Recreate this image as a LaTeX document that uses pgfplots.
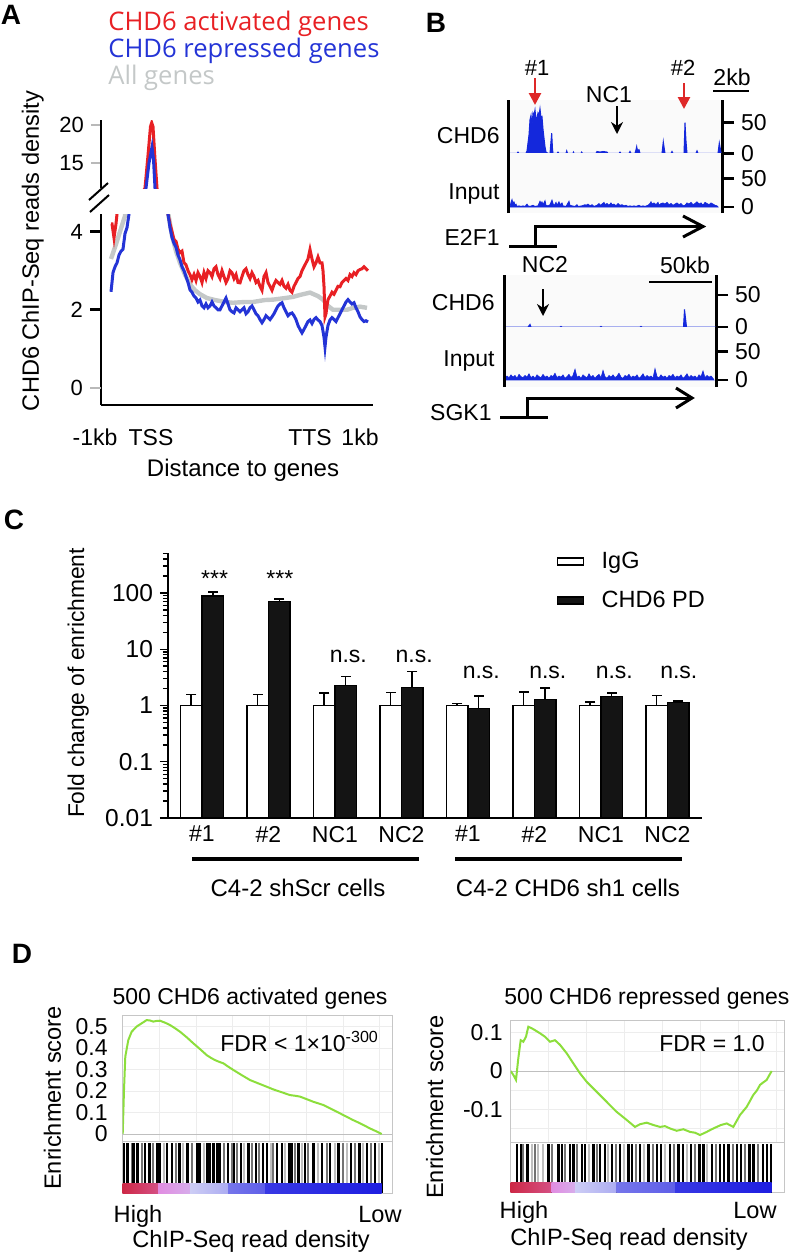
\documentclass[border=0pt]{standalone}
\usepackage{pgfplots}
\pgfplotsset{compat=1.18}
\usepackage{pgfplotstable}
\usepackage{fontspec}
\setmainfont{Liberation Sans}
\newfontfamily\osans{Open Sans}
\usetikzlibrary{arrows.meta}
\definecolor{cred}{RGB}{232,32,36}
\definecolor{cblue}{RGB}{36,52,214}
\definecolor{cgray}{RGB}{196,200,200}
\definecolor{trkblue}{RGB}{20,40,220}
\definecolor{arrred}{RGB}{222,40,40}
\definecolor{esgreen}{RGB}{140,222,60}
\definecolor{hred}{RGB}{205,40,70}
\definecolor{hpink}{RGB}{225,140,225}
\definecolor{hlav}{RGB}{205,205,245}
\definecolor{hmblue}{RGB}{95,95,232}
\definecolor{hblue}{RGB}{30,30,225}
\newcommand\fs[1]{\fontsize{#1}{#1}\selectfont}

% ---------- Panel A data ----------
\pgfplotstableread{
x y
111 4.2
112 4.2
114 3.84
116 4.2
117 4.45
130 7.8
140 10.5
145 11.7
148 16
150.5 19.8
151.7 20.3
153 19.8
155 15.5
157 11.7
162 8.5
168 4.45
170 4.2
172 4.0
174 3.8
176 3.75
178 3.55
180 3.46
182 3.5
184 3.2
186 3.15
188 3.0
190 2.9
192 2.77
194 2.9
196 2.75
198 2.95
200 2.85
202 2.7
204 2.95
206 2.8
208 3.0
210 2.95
212 2.85
214 3.05
216 3.1
218 2.9
220 2.8
222 3.0
224 2.85
226 2.7
228 2.8
230 3.0
232 2.95
234 2.8
236 2.9
238 2.7
240 2.69
242 2.85
244 3.0
246 3.05
248 2.9
250 2.8
252 2.95
254 2.85
256 2.7
258 2.75
260 2.6
262 2.5
264 2.85
266 2.95
268 2.7
270 2.6
272 2.5
274 2.65
276 2.75
278 2.7
280 2.65
282 2.75
284 2.6
286 2.55
288 2.65
290 2.5
292 2.45
294 2.6
296 2.7
298 2.8
300 2.85
302 3.0
304 3.1
306 3.2
308 3.3
310 3.54
312 3.3
314 3.1
316 3.2
318 3.35
320 3.2
322 3.2
323 3.0
324 2.6
325 1.82
326 1.9
327 2.1
328 2.26
330 2.35
332 2.45
334 2.4
336 2.5
338 2.6
340 2.59
342 2.7
344 2.75
346 2.8
348 2.75
350 2.9
352 2.85
354 2.95
356 2.9
358 3.0
360 3.03
362 3.05
364 3.1
366 3.05
368 3.0
}\redtab

\pgfplotstableread{
x y
111 2.46
112 2.7
113 2.95
115 3.1
117 3.2
119 3.4
121 3.5
123 3.55
125 3.95
127 4.1
129 4.45
140 9
146 11.7
149 15
152 17.1
153.5 15.5
155 11.7
161 8
168 4.45
170 4.1
172 3.85
174 3.7
176 3.6
178 3.4
180 3.28
182 3.1
184 3.0
186 2.85
188 2.7
190 2.51
192 2.45
194 2.35
196 2.3
198 2.2
200 2.25
202 2.1
204 2.05
206 2.15
208 2.05
210 2.1
212 2.2
214 2.1
216 2.05
218 2.0
220 2.0
222 2.1
224 2.2
226 2.3
228 2.15
230 2.0
232 1.95
234 1.92
236 2.05
238 2.0
240 1.95
242 2.0
244 2.05
246 1.9
248 1.95
250 2.05
252 2.1
254 2.0
256 1.9
258 1.85
260 1.75
262 1.67
264 1.75
266 1.85
268 1.8
270 1.75
272 1.82
274 1.9
276 2.0
278 2.1
280 2.15
282 2.18
284 2.05
286 1.95
288 1.85
290 1.9
292 1.92
294 1.85
296 1.75
298 1.6
300 1.5
302 1.41
304 1.5
306 1.6
308 1.7
310 1.74
312 1.65
314 1.75
316 1.8
318 1.74
320 1.7
322 1.6
324 1.3
325 1.05
326 1.3
328 1.6
330 1.74
332 1.8
334 1.75
336 1.7
338 1.8
340 1.9
342 2.0
344 2.1
346 2.2
348 2.26
350 2.2
352 2.15
354 2.18
356 2.05
358 1.95
360 1.82
362 1.75
364 1.7
366 1.72
368 1.69
}\bluetab

\pgfplotstableread{
x y
111 3.3
115 3.6
120 4.0
125 4.4
130 6
140 9
150 11
157 10
163 7
168 4.5
172 3.9
176 3.5
180 3.2
185 2.9
190 2.65
195 2.5
200 2.4
207 2.3
215 2.25
225 2.2
233 2.18
245 2.2
253 2.2
265 2.25
273 2.26
285 2.3
293 2.33
300 2.38
310 2.44
318 2.35
323 2.26
328 2.1
333 2.0
340 2.0
347 2.0
353 2.05
360 2.08
367 2.05
}\graytab

% ---------- Panel B data ----------
\pgfplotstableread{
x y
508 0
517 0
518 2
519 0
526 0
527 4
529 30
530 55
531 62
532 45
533 66
534 62
535 71
536 55
537 58
538 66
539 62
540 73
541 58
542 60
543 40
544 25
545 11
546 2
548 0
550 0
551 20
551.7 33
552.5 8
553 0
557 0
558 2
559 0
566 0
566.7 4
567.5 0
573 0
573.5 2
574 0
581 0
581.7 2
582.5 0
596 0
597 3
600 2
603 3
607 2
608 0
619 0
620 2
621 0
629 0
630 3
631 0
635 0
636 6
636.7 11
637.5 4
639 6
640 0
662 0
663.3 19
664.5 5
665 0
671 0
672 3
673 0
684 0
685 50
686 20
687 0
696 0
697 4
698 0
718 0
719.3 17
720.5 6
721 0
722 0
}\chdA

\pgfplotstableread{
x y
510 0
511 8
512 13
513 6
514 9
515 3
516 5
517 1
519 2
521 1
523 2
525 1
527 5
528 2
530 1
533 3
535 1
538 2
540 10
541 6
542 9
543 4
545 11
546 3
548 2
550 4
552 12
553 6
554 2
556 8
557 3
559 9
560 4
562 7
563 2
566 1
569 10
570 3
572 2
575 1
577 4
578 1
582 2
585 4
586 3
588 5
590 2
592 4
594 1
597 3
599 6
600 3
602 5
604 8
605 4
607 6
609 3
611 7
612 4
614 5
616 2
618 6
620 3
622 4
624 2
626 3
628 1
630 2
632 1
634 2
636 1
639 3
641 1
643 2
645 1
648 3
650 6
651 9
652 5
654 7
656 4
658 8
659 3
661 6
663 7
665 5
667 8
669 4
671 6
673 3
675 5
677 7
679 4
681 6
683 2
685 3
687 7
689 5
691 8
693 4
695 6
697 9
699 5
701 7
703 3
705 8
707 6
709 4
711 7
713 5
715 3
717 2
718 0
}\inpA

\pgfplotstableread{
x y
504 0
528 0
529 2
530 4
531 0
560 0
561 1
562 0
600 0
601 1
602 0
640 0
641 1
642 0
683.5 0
684.5 27.6
685.5 14
686.5 0
716 0
}\chdB

\pgfplotstableread{
x y
504 0
505 3
507 7
509 4
511 9
513 5
515 8
517 3
519 10
521 6
523 4
525 8
527 5
529 11
531 4
533 7
535 3
537 9
539 6
541 4
543 10
545 5
547 7
549 3
551 8
553 6
555 12
557 4
559 7
561 5
563 9
565 3
567 6
569 10
571 4
573 8
575 19
577 5
579 7
581 3
583 9
585 6
587 4
589 11
591 5
593 8
595 3
597 7
599 10
601 4
603 17
605 6
607 3
609 8
611 5
613 9
615 4
617 7
619 12
621 5
623 3
625 8
627 6
629 10
631 4
633 7
635 5
637 9
639 3
641 6
643 11
645 4
647 8
649 5
651 7
653 3
655 20
657 6
659 4
661 9
663 5
665 7
667 3
669 8
671 6
673 10
675 4
677 7
679 5
681 9
683 3
685 6
687 11
689 4
691 8
693 5
695 7
697 3
699 9
701 6
703 16
705 4
707 8
709 5
711 7
713 3
714 0
}\inpB

% ---------- Panel D data ----------
\pgfplotstableread{
x y
122.7 0
124 0.205
125.3 0.36
128.3 0.437
131.7 0.476
136.7 0.5
141.7 0.515
146.7 0.53
150 0.528
153.3 0.523
156.7 0.526
160 0.527
165 0.518
170 0.507
175 0.492
180 0.476
186.7 0.45
193.3 0.422
200 0.395
206.7 0.367
211 0.354
215 0.344
219 0.336
223.3 0.329
228 0.314
233.3 0.298
241.7 0.274
250 0.251
258 0.236
266.7 0.22
273 0.208
280 0.197
285 0.189
290 0.181
295 0.178
300 0.174
306.7 0.162
313.3 0.15
318 0.143
323.3 0.135
328 0.124
333.3 0.112
340 0.096
346.7 0.08
353 0.065
360 0.05
365 0.038
370 0.026
376 0.013
381.7 0
}\esA

\pgfplotstableread{
x y
510.7 0
513.3 -0.01
516 -0.023
518.3 0.033
520.7 0.08
523.3 0.076
526 0.089
528.3 0.115
531.7 0.111
535 0.106
540 0.098
545 0.089
550 0.076
555 0.08
560 0.068
566.7 0.046
573.3 0.02
580 -0.006
586.7 -0.028
596.7 -0.054
606.7 -0.08
616.7 -0.106
626.7 -0.127
635 -0.145
640 -0.138
646.7 -0.134
653.3 -0.14
660 -0.145
665 -0.143
670 -0.149
676.7 -0.155
683.3 -0.151
690 -0.158
695 -0.16
700 -0.166
706.7 -0.158
711 -0.152
716.7 -0.145
721 -0.14
726.7 -0.136
733.3 -0.145
740 -0.114
746.7 -0.093
753.3 -0.062
757 -0.05
760 -0.036
763 -0.03
766.7 -0.023
769 -0.012
771.7 0
}\esB

\pgfplotsset{
  trk/.style={scale only axis, axis x line=none, axis y line*=right,
    axis line style={-,line width=1.5pt}, ytick={0,50}, yticklabels={0,50},
    tick align=outside, major tick length=6pt, tick style={black,line width=1.3pt},
    yticklabel style={font=\fs{11.5}}, clip=false,
    axis background/.style={fill=black!2}},
  esax/.style={scale only axis, axis line style={gray!45,line width=0.5pt},
    major tick length=0pt, minor tick length=0pt, grid=both,
    grid style={gray!14,line width=0.4pt}, minor grid style={gray!14,line width=0.4pt},
    xticklabels={}, yticklabel style={font=\fs{11.5}}},
  hitax/.style={scale only axis, axis line style={gray!45,line width=0.5pt},
    xtick=\empty, ytick=\empty, ymin=0, ymax=52}
}

\begin{document}
\begin{tikzpicture}[x=0.5pt,y=-0.5pt]
\path[use as bounding box] (0,0) rectangle (799,1254);

% ================= Panel A =================
\node[font=\fs{14}\bfseries] at (11,15) {A};
\node[anchor=base west, inner sep=0, font=\osans\fs{12.8}, text=cred] at (108,30) {CHD6 activated genes};
\node[anchor=base west, inner sep=0, font=\osans\fs{12.8}, text=cblue] at (108,57) {CHD6 repressed genes};
\node[anchor=base west, inner sep=0, font=\osans\fs{12.8}, text=cgray] at (108,84) {All genes};

\begin{axis}[at={(50.5pt,-202.5pt)}, anchor=south west, scale only axis, width=136pt, height=95.5pt,
  xmin=101, xmax=373, ymin=-0.435, ymax=4.45,
  axis x line*=bottom, axis y line*=left, axis line style={-,line width=0.8pt},
  xtick=\empty, ytick={2,4}, yticklabels={2,4},
  extra y ticks={0}, extra y tick labels={0},
  extra y tick style={tick style={draw=gray!55,line width=0.6pt}},
  tick align=outside, major tick length=5.5pt, tick style={black,line width=1.4pt},
  yticklabel style={font=\fs{11}}]
\addplot[cgray, line width=2.2pt] table {\graytab};
\addplot[cred, line width=1.5pt] table {\redtab};
\addplot[cblue, line width=1.5pt] table {\bluetab};
\end{axis}

\begin{axis}[at={(50.5pt,-94pt)}, anchor=south west, scale only axis, width=136pt, height=34pt,
  xmin=101, xmax=373, ymin=11.7, ymax=20.66,
  axis x line=none, axis y line*=left, axis line style={-,line width=0.8pt},
  xtick=\empty, ytick={15,20}, yticklabels={15,20},
  tick align=outside, major tick length=5pt, tick style={draw=gray!55,line width=0.6pt},
  yticklabel style={font=\fs{11}}]
\addplot[cgray, line width=2.2pt] table {\graytab};
\addplot[cred, line width=1.5pt] table {\redtab};
\addplot[cblue, line width=1.5pt] table {\bluetab};
\end{axis}
\draw[line width=1pt] (89,200) -- (108,183);
\draw[line width=1pt] (90,212) -- (109,195);

\node[anchor=base, font=\fs{11.5}] at (95,445) {-1kb};
\node[anchor=base, font=\fs{11.5}] at (151,445) {TSS};
\node[anchor=base, font=\fs{11.5}] at (310,445) {TTS};
\node[anchor=base, font=\fs{11.5}] at (360,445) {1kb};
\node[anchor=base, font=\fs{12}] at (243,476) {Distance to genes};
\node[anchor=base, rotate=90, font=\fs{11.8}] at (39,251) {CHD6 ChIP-Seq reads density};

% ================= Panel B =================
\node[font=\fs{14}\bfseries] at (436,23) {B};
% locus 1
\begin{axis}[trk, at={(254pt,-76.65pt)}, anchor=south west, width=107pt, height=26.65pt,
  xmin=508, xmax=722, ymin=0, ymax=87.1]
\addplot[fill=trkblue, draw=trkblue, line width=0.5pt] table {\chdA} \closedcycle;
\draw[line width=1.5pt] (rel axis cs:0,0) -- (rel axis cs:0,1);
\end{axis}
\begin{axis}[trk, at={(254pt,-106.5pt)}, anchor=south west, width=107pt, height=29.85pt,
  xmin=508, xmax=722, ymin=-10.45, ymax=93.55]
\addplot[fill=trkblue, draw=trkblue, line width=0.4pt] table {\inpA} \closedcycle;
\draw[line width=1.5pt] (rel axis cs:0,0) -- (rel axis cs:0,1);
\end{axis}
\node[anchor=base east, inner sep=0, font=\fs{11.5}] at (500,143) {CHD6};
\node[anchor=base east, inner sep=0, font=\fs{11.5}] at (500,199) {Input};
\node[anchor=base, inner sep=0, font=\fs{11}] at (537,75) {\#1};
\node[anchor=base, inner sep=0, font=\fs{11}] at (683,75) {\#2};
\node[anchor=base, inner sep=0, font=\fs{11.5}] at (609,102) {NC1};
\node[anchor=base, inner sep=0, font=\fs{11.5}] at (732,85) {2kb};
\draw[line width=1.3pt] (713,91) -- (749,91);
\draw[arrred, line width=1.3pt, -{Triangle[length=6pt,width=6pt]}] (535,78) -- (535,105);
\draw[arrred, line width=1.3pt, -{Triangle[length=6pt,width=6pt]}] (684,83) -- (684,109);
\draw[black, line width=1.2pt, -{Stealth[length=6pt,width=6pt]}] (617,106) -- (617,134);
% E2F1 gene
\node[anchor=base east, inner sep=0, font=\fs{11.5}] at (500,245) {E2F1};
\draw[line width=1.5pt] (509,246) -- (557,246);
\draw[line width=1.5pt] (535,246) -- (535,226.5) -- (703,226.5);
\draw[line width=1.5pt] (683,216) -- (703,226.5) -- (683,237);

% locus 2
\begin{axis}[trk, at={(252pt,-163.5pt)}, anchor=south west, width=106pt, height=26pt,
  xmin=504, xmax=716, ymin=0, ymax=81.25]
\addplot[fill=trkblue, draw=trkblue, line width=0.5pt] table {\chdB} \closedcycle;
\draw[line width=1.5pt] (rel axis cs:0,0) -- (rel axis cs:0,1);
\end{axis}
\begin{axis}[trk, at={(252pt,-193.5pt)}, anchor=south west, width=106pt, height=30pt,
  xmin=504, xmax=716, ymin=-12.4, ymax=93.6]
\addplot[fill=trkblue, draw=trkblue, line width=0.3pt] table {\inpB} \closedcycle;
\draw[line width=1.5pt] (rel axis cs:0,0) -- (rel axis cs:0,1);
\end{axis}
\node[anchor=base east, inner sep=0, font=\fs{11.5}] at (495,310) {CHD6};
\node[anchor=base east, inner sep=0, font=\fs{11.5}] at (495,366) {Input};
\node[anchor=base, inner sep=0, font=\fs{11.5}] at (545,272) {NC2};
\node[anchor=base, inner sep=0, font=\fs{11.5}] at (685,273) {50kb};
\draw[line width=1.3pt] (649,282) -- (712,282);
\draw[black, line width=1.2pt, -{Stealth[length=6pt,width=6pt]}] (543,289) -- (543,316);
\node[anchor=base east, inner sep=0, font=\fs{11.5}] at (492,420) {SGK1};
\draw[line width=1.5pt] (500,417) -- (548,417);
\draw[line width=1.5pt] (527,417) -- (527,398) -- (692,398);
\draw[line width=1.5pt] (676,388) -- (692,398) -- (676,408);

% ================= Panel C =================
\node[font=\fs{14}\bfseries] at (14,520) {C};
\begin{axis}[at={(84pt,-409pt)}, anchor=south west, scale only axis, width=267pt, height=132.5pt,
  ymode=log, log origin=infty, ymin=0.01, ymax=514, xmin=0.4887, xmax=8.519,
  ybar=0pt, bar width=10.75pt,
  axis x line*=bottom, axis y line*=left, axis line style={-,line width=0.9pt},
  xtick={1,...,8}, xticklabels={\#1,\#2,NC1,NC2,\#1,\#2,NC1,NC2},
  x tick style={draw=none}, xticklabel style={font=\fs{11.5}, yshift=3.5pt},
  ytick={0.01,0.1,1,10,100}, yticklabels={0.01,0.1,1,10,100},
  minor ytick={0.02,0.03,0.04,0.05,0.06,0.07,0.08,0.09,0.2,0.3,0.4,0.5,0.6,0.7,0.8,0.9,2,3,4,5,6,7,8,9,20,30,40,50,60,70,80,90,200,300,400,500},
  tick align=outside, major tick length=4pt, minor tick length=2.5pt,
  y tick style={black,line width=0.7pt},
  yticklabel style={font=\fs{12.25}},
  legend image code/.code={\draw[#1, line width=0.75pt] (0pt,-1.75pt) rectangle (13pt,1.75pt); \path[draw=none,fill=none] (13pt,0pt) -- (20pt,0pt);},
  legend style={draw=none, fill=none, at={(axis description cs:0.7164,1.037)}, anchor=north west,
    font=\fs{11.75}, row sep=6pt, legend cell align=left},
  clip=false]
\addplot[fill=white, draw=black, line width=0.75pt] coordinates {
 (1,1) (2,1) (3,1) (4,1) (5,1) (6,1) (7,1) (8,1)};
\addplot[fill=black!92, draw=black, line width=0.75pt] coordinates {
 (1,88.6) (2,70.3) (3,2.27) (4,2.07) (5,0.886) (6,1.27) (7,1.46) (8,1.12)};
\legend{IgG, CHD6 PD}
% error bars (bar top to mean + SD)
\addplot[sharp plot, black, line width=0.75pt, mark=-, mark size=2.6pt, mark options={solid, line width=0.75pt},
  unbounded coords=jump, forget plot] coordinates {
 (0.8383,1) (0.8383,1.58) (0.8383,nan)
 (1.8383,1) (1.8383,1.58) (1.8383,nan)
 (2.8383,1) (2.8383,1.67) (2.8383,nan)
 (3.8383,1) (3.8383,1.69) (3.8383,nan)
 (4.8383,1) (4.8383,1.08) (4.8383,nan)
 (5.8383,1) (5.8383,1.74) (5.8383,nan)
 (6.8383,1) (6.8383,1.16) (6.8383,nan)
 (7.8383,1) (7.8383,1.52) (7.8383,nan)
 (1.1617,88.6) (1.1617,105) (1.1617,nan)
 (2.1617,70.3) (2.1617,78.5) (2.1617,nan)
 (3.1617,2.27) (3.1617,3.27) (3.1617,nan)
 (4.1617,2.07) (4.1617,4.0) (4.1617,nan)
 (5.1617,0.886) (5.1617,1.48) (5.1617,nan)
 (6.1617,1.27) (6.1617,2.04) (6.1617,nan)
 (7.1617,1.46) (7.1617,1.67) (7.1617,nan)
 (8.1617,1.12) (8.1617,1.21)};
\node[anchor=base, font=\fs{11.5}] at (axis cs:1.19,129.5) {***};
\node[anchor=base, font=\fs{11.5}] at (axis cs:2.17,129.5) {***};
\node[anchor=base, font=\fs{11.5}] at (axis cs:3.2,5.93) {n.s.};
\node[anchor=base, font=\fs{11.5}] at (axis cs:4.19,5.93) {n.s.};
\node[anchor=base, font=\fs{11.5}] at (axis cs:5.2,2.96) {n.s.};
\node[anchor=base, font=\fs{11.5}] at (axis cs:6.2,2.96) {n.s.};
\node[anchor=base, font=\fs{11.5}] at (axis cs:7.2,2.96) {n.s.};
\node[anchor=base, font=\fs{11.5}] at (axis cs:8.17,2.96) {n.s.};
\end{axis}
\node[anchor=base, rotate=90, font=\fs{11.4}] at (84,683) {Fold change of enrichment};
\draw[line width=2.2pt] (192,859) -- (419,859);
\draw[line width=2.2pt] (455,859) -- (682,859);
\node[anchor=base, font=\fs{12}] at (298,896) {C4-2 shScr cells};
\node[anchor=base, font=\fs{12}] at (568,896) {C4-2 CHD6 sh1 cells};

% ================= Panel D =================
\node[font=\fs{14}\bfseries] at (22,954) {D};
% left ES
\begin{axis}[esax, at={(61.35pt,-570.5pt)}, anchor=south west, width=134.65pt, height=63pt,
  xmin=122.7, xmax=392, ymin=-0.0326, ymax=0.5535,
  ytick={0,0.1,0.2,0.3,0.4,0.5}, yticklabels={0,0.1,0.2,0.3,0.4,0.5},
  xtick={159.4,196.1,232.8,269.5,306.2,342.9,379.6},
  yticklabel style={xshift=-4pt}]
\draw[gray!50, line width=0.5pt] (axis cs:122.7,0) -- (axis cs:392,0);
\addplot[esgreen, line width=1pt] table {\esA};
\end{axis}
\begin{axis}[hitax, at={(61.35pt,-596.5pt)}, anchor=south west, width=134.65pt, height=26pt,
  xmin=122.7, xmax=392]
\addplot[ycomb, black!25, line width=1pt, no marks] coordinates {(164,50) (183.3,50) (204,50) (244,50) (270.7,50) (285,50) (301.7,50) (318.3,50) (335,50) (346.7,50) (363.3,50) (379.3,50)};
\addplot[ycomb, black!55, line width=1.1pt, no marks] coordinates {(131.7,50) (141.7,50) (152.7,50) (176,50) (191.7,50) (224,50) (231.7,50) (236.7,50) (251.7,50) (259.3,50) (273.3,50) (295,50) (308.3,50) (326.7,50) (342.7,50) (355,50) (370.7,50)};
\addplot[ycomb, black, line width=1.2pt, no marks] coordinates {(124,50) (127.3,50) (133.3,50) (137.3,50) (145,50) (149.3,50) (156.7,50) (159.3,50) (166.7,50) (171.7,50) (179.3,50) (187.3,50) (196.7,50) (199.3,50) (207.3,50) (210,50) (213.3,50) (216.7,50) (219.3,50) (228,50) (234,50) (240.7,50) (248.3,50) (256,50) (262.7,50) (266.7,50) (276.7,50) (281.7,50) (289.3,50) (291.7,50) (298.3,50) (305,50) (313.3,50) (321.7,50) (330,50) (338.3,50) (350.7,50) (359.3,50) (366.7,50) (375,50) (381.7,50)};
\fill[left color=hred, right color=hred!60!hpink] (axis cs:122.7,0) rectangle (axis cs:158,10);
\fill[left color=hpink, right color=hpink!50!hlav] (axis cs:158,0) rectangle (axis cs:190,10);
\fill[left color=hlav, right color=hlav!70!hmblue] (axis cs:190,0) rectangle (axis cs:228,10);
\fill[left color=hmblue!80!hlav, right color=hmblue] (axis cs:228,0) rectangle (axis cs:265,10);
\fill[left color=hmblue!40!hblue, right color=hblue] (axis cs:265,0) rectangle (axis cs:381.7,10);
\end{axis}
\node[anchor=base, font=\fs{11.5}] at (250,1004) {500 CHD6 activated genes};
\node[anchor=base west, inner sep=0, font=\fs{11.5}] at (220,1051) {FDR < 1×10\textsuperscript{-300}};
\node[anchor=base, rotate=90, font=\fs{11.8}] at (61,1098) {Enrichment score};
\node[anchor=base, font=\fs{11.8}] at (138,1222) {High};
\node[anchor=base, font=\fs{11.8}] at (380,1222) {Low};
\node[anchor=base, font=\fs{11.8}] at (251,1247) {ChIP-Seq read density};

% right ES
\begin{axis}[esax, at={(255.35pt,-571.35pt)}, anchor=south west, width=136.65pt, height=61pt,
  xmin=510.7, xmax=784, ymin=-0.186, ymax=0.1306,
  ytick={-0.1,0,0.1}, yticklabels={-0.1,0,0.1}, minor ytick={-0.15,-0.05,0.05},
  xtick={548,586,624,662,700,738,776},
  yticklabel style={xshift=-0.5pt}]
\draw[gray!50, line width=0.5pt] (axis cs:510.7,0) -- (axis cs:784,0);
\addplot[esgreen, line width=1pt] table {\esB};
\end{axis}
\begin{axis}[hitax, at={(255.35pt,-596.35pt)}, anchor=south west, width=136.65pt, height=25pt,
  xmin=510.7, xmax=784, ymax=50]
\addplot[ycomb, black!25, line width=1pt, no marks] coordinates {(531.7,49) (538.3,49) (543.3,49) (589.3,49) (608.3,49) (624,49) (644,49) (665,49) (686.7,49) (707.3,49)};
\addplot[ycomb, black!55, line width=1.1pt, no marks] coordinates {(523.3,49) (535,49) (551.7,49) (565,49) (577.3,49) (596.7,49) (616,49) (636,49) (652.7,49) (674,49) (695,49) (716,49) (732.7,49) (745,49) (758.3,49)};
\addplot[ycomb, black, line width=1.2pt, no marks] coordinates {(516.7,49) (520.7,49) (527.3,49) (548.3,49) (558.3,49) (561.7,49) (570,49) (573.3,49) (581.7,49) (585,49) (593.3,49) (600,49) (605,49) (611.7,49) (620,49) (628.3,49) (631.7,49) (640,49) (648.3,49) (656.7,49) (660.7,49) (670,49) (678.3,49) (682.7,49) (690.7,49) (699.3,49) (703.3,49) (711.7,49) (720,49) (724,49) (728.3,49) (736.7,49) (740.7,49) (749.3,49) (753.3,49) (762.7,49) (766.7,49) (771,49)};
\fill[left color=hred, right color=hred!60!hpink] (axis cs:510.7,0) rectangle (axis cs:551.7,10);
\fill[left color=hpink, right color=hpink!50!hlav] (axis cs:551.7,0) rectangle (axis cs:575,10);
\fill[left color=hlav, right color=hlav!70!hmblue] (axis cs:575,0) rectangle (axis cs:616.7,10);
\fill[left color=hmblue!80!hlav, right color=hmblue] (axis cs:616.7,0) rectangle (axis cs:675,10);
\fill[left color=hmblue!40!hblue, right color=hblue] (axis cs:675,0) rectangle (axis cs:771.7,10);
\end{axis}
\node[anchor=base, font=\fs{11.5}] at (647,1004) {500 CHD6 repressed genes};
\node[anchor=base, font=\fs{11.5}] at (712,1051) {FDR = 1.0};
\node[anchor=base, rotate=90, font=\fs{11.8}] at (443,1107) {Enrichment score};
\node[anchor=base, font=\fs{11.8}] at (524,1218) {High};
\node[anchor=base, font=\fs{11.8}] at (755,1218) {Low};
\node[anchor=base, font=\fs{11.8}] at (629,1245) {ChIP-Seq read density};
\end{tikzpicture}
\end{document}
